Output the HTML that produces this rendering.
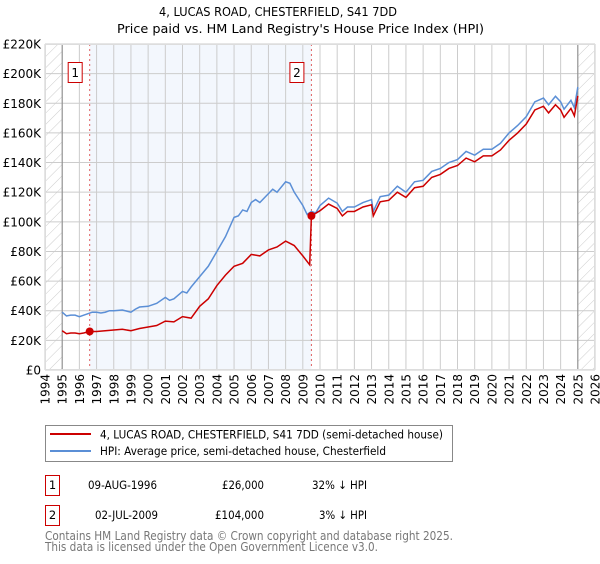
<!DOCTYPE html>
<html><head><meta charset="utf-8"><style>
body{margin:0;background:#fff;font-family:"DejaVu Sans","Liberation Sans",sans-serif;}
svg text{font-family:"DejaVu Sans","Liberation Sans",sans-serif;}
</style></head><body>
<svg id="chart" width="600" height="560" xmlns="http://www.w3.org/2000/svg">
<defs><pattern id="hatch" patternUnits="userSpaceOnUse" width="8" height="8" patternTransform="rotate(45)"><line x1="0" y1="0" x2="0" y2="8" stroke="#ccc" stroke-width="1"/></pattern></defs>
<text x="159" y="16" font-size="12.5" textLength="238" lengthAdjust="spacingAndGlyphs">4, LUCAS ROAD, CHESTERFIELD, S41 7DD</text>
<text x="117" y="33" font-size="12.5" textLength="367" lengthAdjust="spacingAndGlyphs">Price paid vs. HM Land Registry's House Price Index (HPI)</text>
<g id="plot"></g>
<g>
<rect x="45.5" y="425.5" width="407" height="36" fill="#fff" stroke="#888"/>
<line x1="50" y1="434" x2="91" y2="434" stroke="#cc0000" stroke-width="2"/>
<text x="100" y="438.5" font-size="11.5" textLength="343" lengthAdjust="spacingAndGlyphs">4, LUCAS ROAD, CHESTERFIELD, S41 7DD (semi-detached house)</text>
<line x1="50" y1="451" x2="91" y2="451" stroke="#5b8fd6" stroke-width="2"/>
<text x="100" y="455" font-size="11.5" textLength="286" lengthAdjust="spacingAndGlyphs">HPI: Average price, semi-detached house, Chesterfield</text>
</g>
<g font-size="11.5">
<rect x="45.5" y="475.5" width="14" height="20" fill="#fff" stroke="#cc0000"/>
<text x="52.5" y="489" text-anchor="middle">1</text>
<text x="88" y="489" textLength="69" lengthAdjust="spacingAndGlyphs">09-AUG-1996</text>
<text x="222" y="489" textLength="42" lengthAdjust="spacingAndGlyphs">£26,000</text>
<text x="312" y="489" textLength="55" lengthAdjust="spacingAndGlyphs">32% ↓ HPI</text>
<rect x="45.5" y="505.5" width="14" height="20" fill="#fff" stroke="#cc0000"/>
<text x="52.5" y="519" text-anchor="middle">2</text>
<text x="95" y="519" textLength="63" lengthAdjust="spacingAndGlyphs">02-JUL-2009</text>
<text x="215" y="519" textLength="49" lengthAdjust="spacingAndGlyphs">£104,000</text>
<text x="319" y="519" textLength="48" lengthAdjust="spacingAndGlyphs">3% ↓ HPI</text>
</g>
<text x="45" y="540" font-size="12" fill="#777" textLength="408" lengthAdjust="spacingAndGlyphs">Contains HM Land Registry data © Crown copyright and database right 2025.</text>
<text x="45" y="551" font-size="12" fill="#777" textLength="333" lengthAdjust="spacingAndGlyphs">This data is licensed under the Open Government Licence v3.0.</text>
</svg>
<script>
const hpiYears=[1995,1995.25,1995.5,1995.75,1996,1996.25,1996.5,1996.75,1997,1997.25,1997.5,1997.75,1998,1998.5,1999,1999.25,1999.5,2000,2000.5,2001,2001.25,2001.5,2002,2002.25,2002.5,2003,2003.5,2004,2004.5,2005,2005.25,2005.5,2005.75,2006,2006.25,2006.5,2007,2007.25,2007.5,2008,2008.25,2008.5,2009,2009.25,2009.5,2009.75,2010,2010.5,2011,2011.3,2011.6,2012,2012.5,2013,2013.1,2013.5,2014,2014.5,2015,2015.5,2016,2016.5,2017,2017.5,2018,2018.5,2019,2019.5,2020,2020.5,2021,2021.5,2022,2022.5,2023,2023.3,2023.7,2024,2024.2,2024.6,2024.8,2025];
const hpiValues=[39,36.5,37,37,36,37,38,39,39,38.5,39,40,40,40.5,39,41,42.5,43,45,49,47,48,53,52,56,63,70,80,90,103,104,108,107,113,115,113,119,122,120,127,126,120,111,105,107,106,111,116,112.6,107,110,110,113,115,107,117,118,124,120,127,128,134,136,140,142,147.5,145,149,149,153,160,165,171,181,183.5,179,184.7,181,176,182,177,191];
const priceYears=[1995,1995.25,1995.5,1995.75,1996,1996.25,1996.6,1997,1997.5,1998,1998.5,1999,1999.5,2000,2000.5,2001,2001.5,2002,2002.5,2003,2003.5,2004,2004.5,2005,2005.5,2006,2006.5,2007,2007.5,2008,2008.5,2009,2009.4,2009.5,2010,2010.5,2011,2011.3,2011.6,2012,2012.5,2013,2013.1,2013.5,2014,2014.5,2015,2015.5,2016,2016.5,2017,2017.5,2018,2018.5,2019,2019.5,2020,2020.5,2021,2021.5,2022,2022.5,2023,2023.3,2023.7,2024,2024.2,2024.6,2024.8,2025];
const priceValues=[26.5,24.5,25,25,24.5,25,26,26,26.5,27,27.5,26.5,28,29,30,33,32.5,36,35,43,48,57,64,70,72,78,77,81,83,87,84,77,71,104,107.5,112,109,104,107,107,110,111.5,104,113.5,114.5,120,116.5,123,124,130,132,136,138,143,140.5,144.5,144.5,148.5,155,160,166,175.5,178,173.5,179,175.5,170.5,176.5,171.5,185];
const yTicks=[0,20,40,60,80,100,120,140,160,180,200,220];
const yTickLabels=["£0","£20K","£40K","£60K","£80K","£100K","£120K","£140K","£160K","£180K","£200K","£220K"];
const xTicks=[1994,1995,1996,1997,1998,1999,2000,2001,2002,2003,2004,2005,2006,2007,2008,2009,2010,2011,2012,2013,2014,2015,2016,2017,2018,2019,2020,2021,2022,2023,2024,2025,2026];
const sales=[{n:"1",year:1996.6,value:26},{n:"2",year:2009.5,value:104}];

const L=45,R=595,T=44,B=370;
const x=v=>L+(v-1994)/(2026-1994)*(R-L);
const y=v=>B-v/220*(B-T);
const NS="http://www.w3.org/2000/svg";
const g=document.getElementById('plot');
function mk(tag,attrs,parent){const e=document.createElementNS(NS,tag);for(const k in attrs)e.setAttribute(k,attrs[k]);(parent||g).appendChild(e);return e;}
let e;
e=mk('rect',{x:x(sales[0].year),y:T,width:x(sales[1].year)-x(sales[0].year),height:B-T,fill:'#eef3fc',opacity:0.7});


e=mk('rect',{x:L,y:T,width:x(1995)-L,height:B-T,fill:'url(#hatch)'});


e=mk('rect',{x:x(2025),y:T,width:R-x(2025),height:B-T,fill:'url(#hatch)'});


yTicks.forEach((t,i)=>{
  e=mk('line',{x1:L,x2:R,y1:y(t),y2:y(t),stroke:'#ccc'});
  
  
  e=mk('text',{x:L-4,y:y(t)+4.5,'text-anchor':'end','font-size':12});
  e.textContent=yTickLabels[i];
  
  
});
xTicks.forEach(t=>{
  e=mk('line',{x1:x(t),x2:x(t),y1:T,y2:B,stroke:'#ccc'});
  
  
  e=mk('text',{x:0,y:0,'text-anchor':'end','font-size':12,transform:`translate(${x(t)+4.5},${B+4}) rotate(-90)`});
  e.textContent=t;
  
  
});
[1995,2025].forEach(t=>{e=mk('line',{x1:x(t),x2:x(t),y1:T,y2:B,stroke:'#888'});
  
  });
sales.forEach(s=>{
  e=mk('line',{x1:x(s.year),x2:x(s.year),y1:T,y2:B,stroke:'#e06060','stroke-dasharray':'2,3'});
  
  
});
e=mk('polyline',{points:hpiYears.map((v,i)=>x(v)+','+y(hpiValues[i])).join(' '),fill:'none',stroke:'#5b8fd6','stroke-width':1.5});


e=mk('polyline',{points:priceYears.map((v,i)=>x(v)+','+y(priceValues[i])).join(' '),fill:'none',stroke:'#cc0000','stroke-width':1.5});


sales.forEach(s=>{
  e=mk('circle',{cx:x(s.year),cy:y(s.value),r:4,fill:'#cc0000'});
  
  
  e=mk('rect',{x:x(s.year)-21.5,y:62.5,width:14,height:20,fill:'#fff',stroke:'#cc0000'});
  
  
  e=mk('text',{x:x(s.year)-14.5,y:77,'text-anchor':'middle','font-size':12});
  e.textContent=s.n;
  
  
});
e=mk('rect',{x:L+0.5,y:T+0.5,width:R-L-1,height:B-T-1,fill:'none',stroke:'#ddd'});


</script>
</body></html>
